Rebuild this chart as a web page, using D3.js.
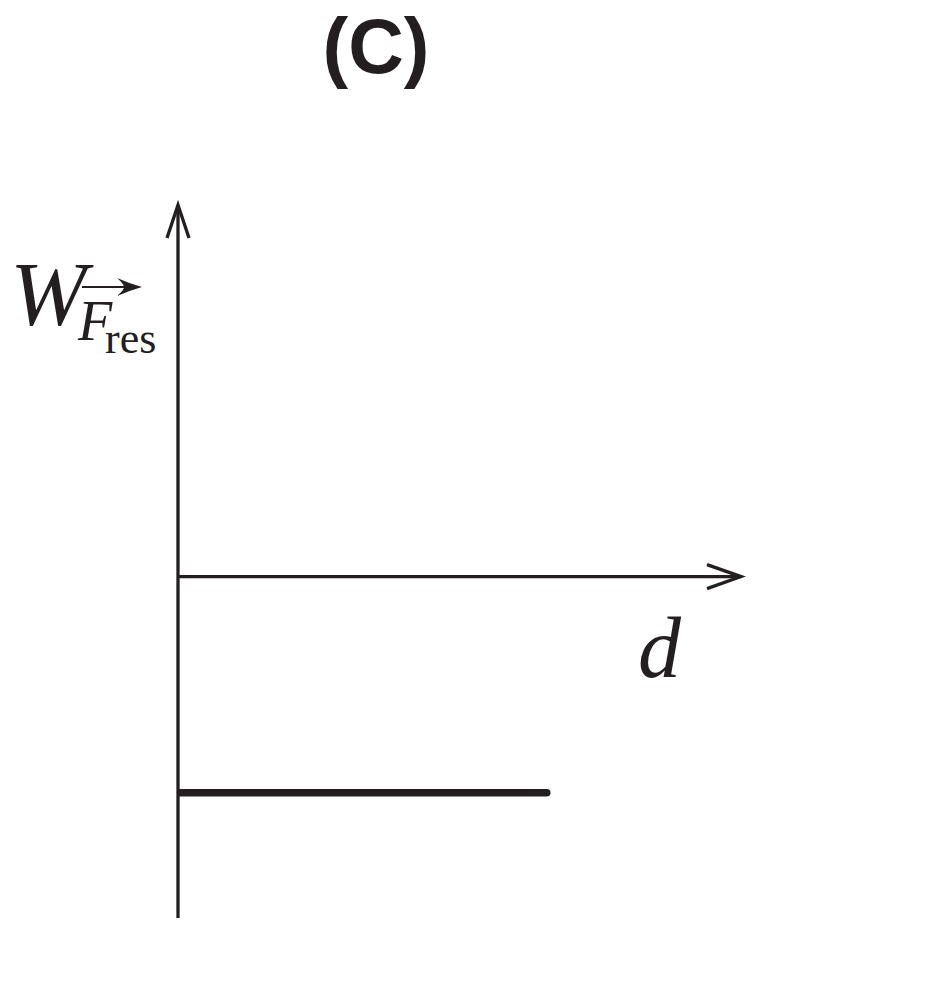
<!DOCTYPE html>
<html>
<head>
<meta charset="utf-8">
<script src="https://cdn.jsdelivr.net/npm/d3@7"></script>
<style>
  body { margin: 0; background: #fff; }
</style>
</head>
<body>
<div id="chart"></div>
<script>
// values (arbitrary units, axis cross at 0,0)
const xDomain = [0, 1];
const yDomain = [-1.58, 1.72];
const lineX = [0, 0.655];
const lineY = [-1, -1];
const panelTitle = "(C)";
const xLabel = "d";

const W = 952, H = 992;
const ink = "#231f20";

const svg = d3.select("#chart").append("svg")
  .attr("width", W)
  .attr("height", H);

const x = d3.scaleLinear().domain(xDomain).range([178, 741]);
const y = d3.scaleLinear().domain(yDomain).range([918, 205]);

// clip so the round cap only shows at the right end
svg.append("clipPath").attr("id", "plotclip")
  .append("rect")
  .attr("x", x(0)).attr("y", 0)
  .attr("width", W).attr("height", H);

// y axis
svg.append("line")
  .attr("x1", x(0)).attr("x2", x(0))
  .attr("y1", y(yDomain[0])).attr("y2", y(yDomain[1]))
  .attr("stroke", ink).attr("stroke-width", 3.3);

// y arrow head (open chevron)
svg.append("path")
  .attr("d", `M${x(0) - 11},${y(yDomain[1]) + 33} L${x(0)},${y(yDomain[1])} L${x(0) + 11},${y(yDomain[1]) + 33}`)
  .attr("fill", "none").attr("stroke", ink).attr("stroke-width", 3.3);

// x axis
svg.append("line")
  .attr("x1", x(xDomain[0])).attr("x2", x(xDomain[1]))
  .attr("y1", y(0)).attr("y2", y(0))
  .attr("stroke", ink).attr("stroke-width", 3.3);

svg.append("path")
  .attr("d", `M${x(xDomain[1]) - 34},${y(0) - 12} L${x(xDomain[1])},${y(0)} L${x(xDomain[1]) - 34},${y(0) + 12}`)
  .attr("fill", "none").attr("stroke", ink).attr("stroke-width", 3.3);

// the constant work line
const line = d3.line()
  .x((d, i) => x(lineX[i]))
  .y(d => y(d));

svg.append("path")
  .datum(lineY)
  .attr("d", line)
  .attr("clip-path", "url(#plotclip)")
  .attr("fill", "none")
  .attr("stroke", ink)
  .attr("stroke-width", 7.5)
  .attr("stroke-linecap", "round");

// title
svg.append("text")
  .attr("x", 376).attr("y", 73)
  .attr("text-anchor", "middle")
  .style("font-family", "Liberation Sans, Arial, sans-serif")
  .style("font-weight", "bold")
  .style("font-size", "77px")
  .attr("fill", ink)
  .text(panelTitle);

// x label
svg.append("text")
  .attr("x", 638).attr("y", 677)
  .style("font-family", "Liberation Serif, Times New Roman, serif")
  .style("font-style", "italic")
  .style("font-size", "86px")
  .attr("fill", ink)
  .text(xLabel);

// y label  W with subscript F-vector res
const yl = svg.append("g")
  .style("font-family", "Liberation Serif, Times New Roman, serif")
  .attr("fill", ink);

yl.append("text")
  .attr("x", 10).attr("y", 325)
  .style("font-style", "italic")
  .style("font-size", "92px")
  .text("W");

yl.append("text")
  .attr("x", 78).attr("y", 340)
  .style("font-style", "italic")
  .style("font-size", "56px")
  .text("F");

yl.append("text")
  .attr("x", 105).attr("y", 353)
  .style("font-size", "44px")
  .text("res");

// vector arrow over F
yl.append("line")
  .attr("x1", 82).attr("x2", 136)
  .attr("y1", 287).attr("y2", 287)
  .attr("stroke", ink).attr("stroke-width", 2.2);

yl.append("path")
  .attr("d", "M142,287 Q128,283 117,278 Q124,284 124,287 Q124,290 117,296 Q128,291 142,287 Z")
  .attr("fill", ink);
</script>
</body>
</html>
